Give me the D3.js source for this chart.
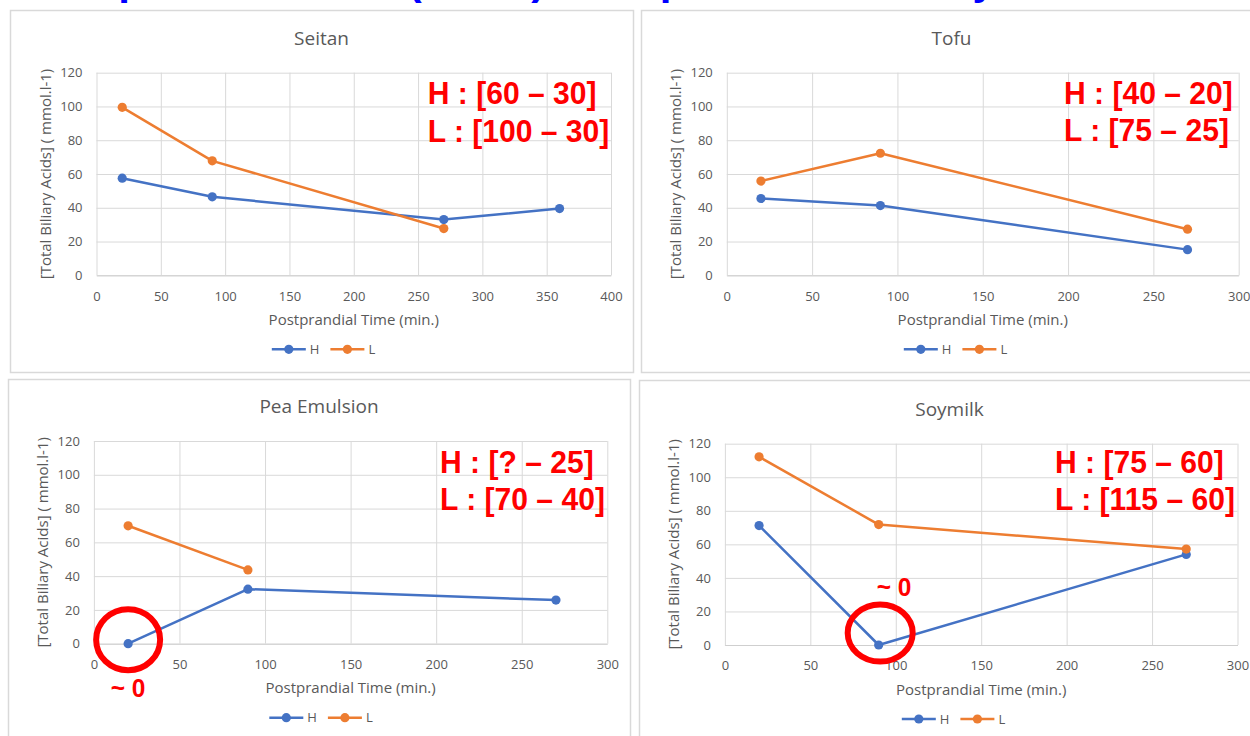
<!DOCTYPE html>
<html>
<head>
<meta charset="utf-8">
<script src="https://cdn.jsdelivr.net/npm/d3@7"></script>
<style>
  html, body { margin: 0; padding: 0; background: #fff; overflow: hidden; }
  svg { display: block; }
</style>
</head>
<body>
<svg id="chart" width="1250" height="736"></svg>
<script>
/* Total biliary acids vs postprandial time, four test meals, groups H and L */
var yTicks = [0, 20, 40, 60, 80, 100, 120];
var xTicksLong = [0, 50, 100, 150, 200, 250, 300, 350, 400];
var xTicksShort = [0, 50, 100, 150, 200, 250, 300];
var seriesNames = ['H', 'L'];

var seitanTimeH = [20, 90, 270, 360];
var seitanH = [57.5, 46.5, 33, 39.5];
var seitanTimeL = [20, 90, 270];
var seitanL = [99.5, 67.8, 27.7];

var tofuTime = [20, 90, 270];
var tofuH = [45.5, 41.3, 15.2];
var tofuL = [55.8, 72.3, 27.3];

var peaTimeH = [20, 90, 270];
var peaH = [0, 32.3, 25.8];
var peaTimeL = [20, 90];
var peaL = [69.8, 43.7];

var soyTime = [20, 90, 270];
var soyH = [71.2, 0, 54];
var soyL = [112.2, 71.8, 57.2];

var seitanNotes = ['H : [60 \u2013 30]', 'L : [100 \u2013 30]'];
var tofuNotes = ['H : [40 \u2013 20]', 'L : [75 \u2013 25]'];
var peaNotes = ['H : [? \u2013 25]', 'L : [70 \u2013 40]'];
var soyNotes = ['H : [75 \u2013 60]', 'L : [115 \u2013 60]'];
var nearZero = '~ 0';

var xTitle = 'Postprandial Time (min.)';
var yTitle = '[Total Biliary Acids] ( mmol.l-1)';
var slideTitle = 'Comparison of the (TBAs) after protein intake by diet';

(function () {
  'use strict';

  var svg = d3.select('#chart');
  var FONT = "'Open Sans', 'Liberation Sans', sans-serif";
  var BOLD = "'Liberation Sans', Arial, sans-serif";
  var GREY = '#595959', GRID = '#d9d9d9', RED = '#ff0000';
  var COLORS = { H: '#4472c4', L: '#ed7d31' };

  var panels = [
    { name: 'Seitan', box: [10, 10, 623, 362], plot: [96.5, 72.7, 611, 275.3],
      xDomain: [0, 400], xTicks: xTicksLong,
      series: [{ key: 'H', t: seitanTimeH, v: seitanH }, { key: 'L', t: seitanTimeL, v: seitanL }],
      notes: seitanNotes, noteAt: [427.7, 104.3] },
    { name: 'Tofu', box: [641, 10, 625, 362], plot: [726.8, 72.7, 1238.7, 275.3],
      xDomain: [0, 300], xTicks: xTicksShort,
      series: [{ key: 'H', t: tofuTime, v: tofuH }, { key: 'L', t: tofuTime, v: tofuL }],
      notes: tofuNotes, noteAt: [1064, 103.5] },
    { name: 'Pea Emulsion', box: [8, 379, 622, 370], plot: [93.9, 441, 607.3, 643.7],
      xDomain: [0, 300], xTicks: xTicksShort,
      series: [{ key: 'H', t: peaTimeH, v: peaH }, { key: 'L', t: peaTimeL, v: peaL }],
      notes: peaNotes, noteAt: [440, 472.7],
      ring: { t: 20, v: 0, dx: 0, dy: -4, rx: 32, ry: 30.5, labelAt: [128, 697] } },
    { name: 'Soymilk', box: [639, 380, 625, 370], plot: [724.9, 443.7, 1237.5, 645],
      xDomain: [0, 300], xTicks: xTicksShort,
      series: [{ key: 'H', t: soyTime, v: soyH }, { key: 'L', t: soyTime, v: soyL }],
      notes: soyNotes, noteAt: [1055, 472.7],
      ring: { t: 90, v: 0, dx: 1.5, dy: -12, rx: 32.5, ry: 28.5, labelAt: [894, 596] } }
  ];

  /* cropped slide heading, only the descenders show */
  svg.append('text')
    .attr('x', 25).attr('y', -6)
    .style('font-family', BOLD).style('font-weight', 'bold').style('font-size', '42px')
    .attr('fill', '#0000ff')
    .text(slideTitle);

  function drawPanel(p) {
    var g = svg.append('g');
    var L = p.plot[0], T = p.plot[1], R = p.plot[2], B = p.plot[3];
    var w = R - L, h = B - T;

    g.append('rect')
      .attr('x', p.box[0] + 0.5).attr('y', p.box[1] + 0.5)
      .attr('width', p.box[2]).attr('height', p.box[3])
      .attr('fill', '#fff').attr('stroke', GRID).attr('stroke-width', 1.5);

    var x = d3.scaleLinear().domain(p.xDomain).range([L, R]);
    var y = d3.scaleLinear().domain([0, 120]).range([B, T]);

    /* y grid and labels */
    var ya = g.append('g').attr('transform', 'translate(' + L + ',0)')
      .call(d3.axisLeft(y).tickValues(yTicks).tickSize(-w).tickPadding(14));
    ya.select('.domain').remove();
    ya.selectAll('line').attr('stroke', GRID);
    ya.attr('font-family', FONT).attr('font-size', 13);
    ya.selectAll('text').attr('fill', GREY);

    /* x grid and labels */
    var xa = g.append('g').attr('transform', 'translate(0,' + B + ')')
      .call(d3.axisBottom(x).tickValues(p.xTicks).tickSize(-h).tickSizeOuter(0).tickPadding(16));
    xa.select('.domain').attr('stroke', '#cfcfcf');
    xa.selectAll('line').attr('stroke', GRID);
    xa.attr('font-family', FONT).attr('font-size', 13);
    xa.selectAll('text').attr('fill', GREY);

    /* titles */
    g.append('text')
      .attr('x', p.box[0] + p.box[2] / 2 + (p.box[0] > 600 ? -2 : 0)).attr('y', T - 28)
      .attr('text-anchor', 'middle')
      .style('font-family', FONT).style('font-size', '19px').attr('fill', GREY)
      .text(p.name);
    g.append('text')
      .attr('x', (L + R) / 2).attr('y', B + 49.5)
      .attr('text-anchor', 'middle')
      .style('font-family', FONT).style('font-size', '15px').attr('fill', GREY)
      .text(xTitle);
    g.append('text')
      .attr('transform', 'translate(' + (L - 51) + ',' + ((T + B) / 2) + ') rotate(-90)')
      .attr('text-anchor', 'middle').attr('dy', '0.35em')
      .style('font-family', FONT).style('font-size', '15px').attr('fill', GREY)
      .text(yTitle);

    /* series */
    p.series.forEach(function (s) {
      var pts = s.t.map(function (t, i) { return [t, s.v[i]]; });
      g.append('path')
        .datum(pts)
        .attr('fill', 'none').attr('stroke', COLORS[s.key]).attr('stroke-width', 2.5)
        .attr('stroke-linejoin', 'round')
        .attr('d', d3.line().x(function (d) { return x(d[0]); }).y(function (d) { return y(d[1]); }));
      g.selectAll(null).data(pts).enter().append('circle')
        .attr('cx', function (d) { return x(d[0]); })
        .attr('cy', function (d) { return y(d[1]); })
        .attr('r', 4.6).attr('fill', COLORS[s.key]);
    });

    /* legend */
    var lg = g.append('g');
    var cx = 0;
    seriesNames.forEach(function (k) {
      var e = lg.append('g').attr('transform', 'translate(' + cx + ',0)');
      e.append('line').attr('x1', 0).attr('x2', 34).attr('y1', 0).attr('y2', 0)
        .attr('stroke', COLORS[k]).attr('stroke-width', 2.5);
      e.append('circle').attr('cx', 17).attr('cy', 0).attr('r', 4.6).attr('fill', COLORS[k]);
      var t = e.append('text').attr('x', 38).attr('dy', '0.35em')
        .style('font-family', FONT).style('font-size', '13px').attr('fill', GREY)
        .text(k);
      cx += 38 + t.node().getComputedTextLength() + 11;
    });
    var total = cx - 11;
    lg.attr('transform', 'translate(' + (p.box[0] + p.box[2] / 2 - total / 2 + 2) + ',' + (B + 74) + ')');

    /* red range notes */
    p.notes.forEach(function (n, i) {
      g.append('text')
        .attr('transform', 'translate(' + p.noteAt[0] + ',' + (p.noteAt[1] + i * 37.4) + ') scale(0.94,1)')
        .style('font-family', BOLD).style('font-weight', 'bold').style('font-size', '32px')
        .attr('fill', RED)
        .text(n);
    });

    /* circled near-zero point */
    if (p.ring) {
      var r = p.ring;
      g.append('ellipse')
        .attr('cx', x(r.t) + r.dx).attr('cy', y(r.v) + r.dy)
        .attr('rx', r.rx).attr('ry', r.ry)
        .attr('fill', 'none').attr('stroke', RED).attr('stroke-width', 6);
      g.append('text')
        .attr('transform', 'translate(' + r.labelAt[0] + ',' + r.labelAt[1] + ') scale(0.94,1)')
        .attr('text-anchor', 'middle')
        .style('font-family', BOLD).style('font-weight', 'bold').style('font-size', '26px')
        .attr('fill', RED)
        .text(nearZero);
    }
  }

  panels.forEach(drawPanel);
})();
</script>
</body>
</html>
